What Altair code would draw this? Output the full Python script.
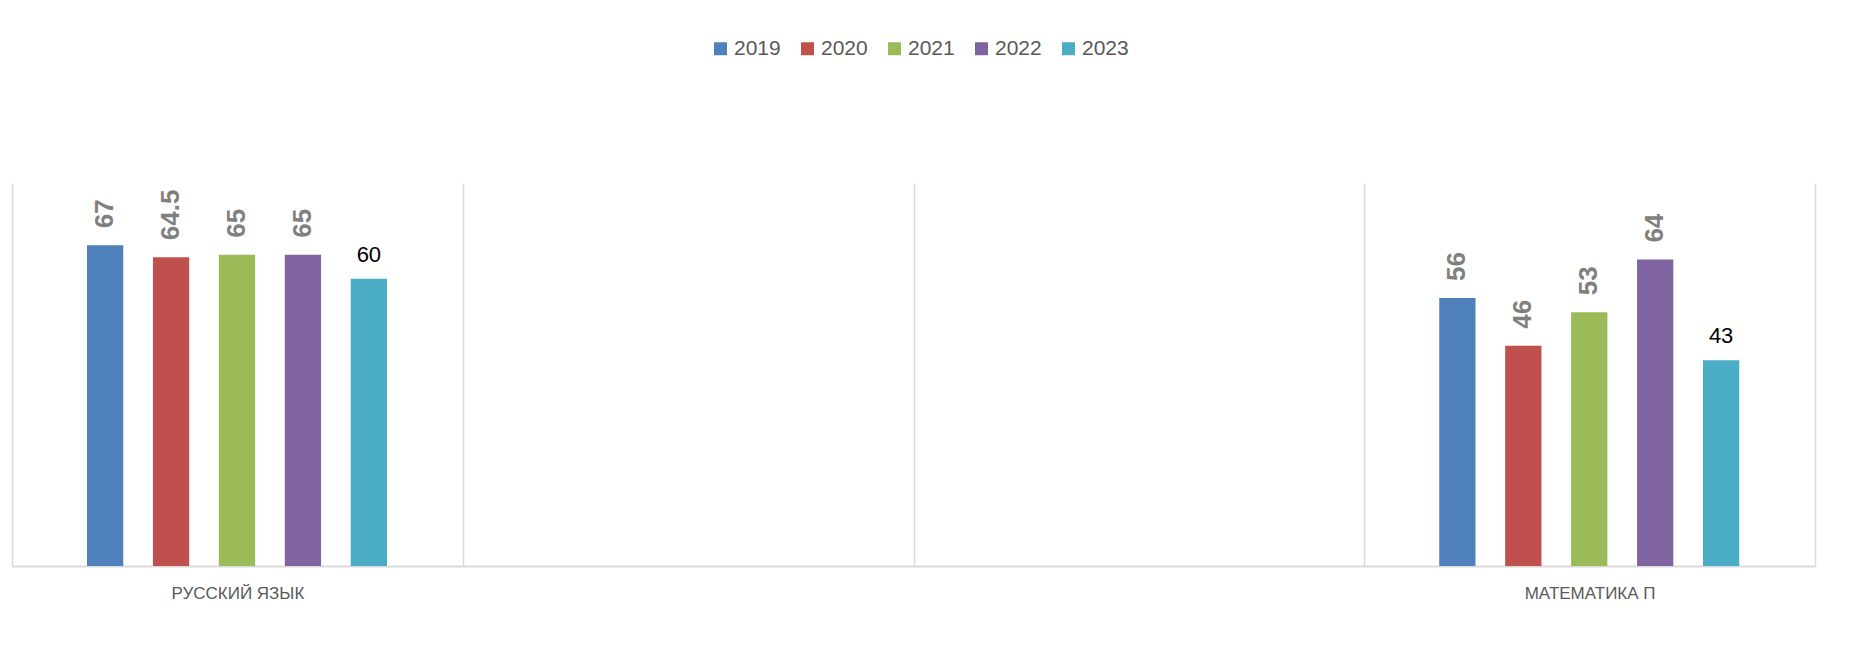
import altair as alt
import pandas as pd

subjects = ["РУССКИЙ ЯЗЫК", " ", "  ", "МАТЕМАТИКА П"]
years = ["2019", "2020", "2021", "2022", "2023"]
russian = [67, 64.5, 65, 65, 60]
math_p = [56, 46, 53, 64, 43]
colors = ["#4F81BD", "#C0504D", "#9BBB59", "#8064A2", "#4BACC6"]

rows = []
for y, v in zip(years, russian):
    rows.append({"subject": subjects[0], "year": y, "value": v})
for y, v in zip(years, math_p):
    rows.append({"subject": subjects[3], "year": y, "value": v})
df = pd.DataFrame(rows)

FONT = "Liberation Sans"

x_enc = alt.X(
    "subject:N",
    sort=subjects,
    scale=alt.Scale(domain=subjects, paddingInner=0, paddingOuter=0),
    axis=alt.Axis(
        title=None,
        labelAngle=0,
        labelColor="#595959",
        labelFontSize=17,
        labelFont=FONT,
        labelPadding=19,
        ticks=False,
        domainColor="#d9d9d9",
        domainWidth=2,
        grid=True,
        gridColor="#d9d9d9",
        gridWidth=1.5,
        tickBand="extent",
    ),
)
xo_enc = alt.XOffset(
    "year:N",
    sort=years,
    scale=alt.Scale(domain=years, range=[75, 375], paddingInner=0.45, paddingOuter=0),
)
y_enc = alt.Y("value:Q", scale=alt.Scale(domain=[0, 80]), axis=None)

base = alt.Chart(df).encode(x=x_enc, xOffset=xo_enc, y=y_enc)

bars = base.mark_bar().encode(
    color=alt.Color(
        "year:N",
        sort=years,
        scale=alt.Scale(domain=years, range=colors),
        legend=alt.Legend(
            title=None,
            orient="none",
            direction="horizontal",
            legendX=698,
            legendY=-145,
            symbolType="square",
            symbolSize=169,
            symbolStrokeWidth=0,
            labelFontSize=21,
            labelFont=FONT,
            labelColor="#595959",
            labelOffset=3,
            columnPadding=16,
        ),
    )
)

rot_labels = base.transform_filter(
    alt.datum.year != "2023"
).mark_text(
    angle=270,
    align="left",
    baseline="middle",
    dx=17,
    fontSize=26,
    fontWeight="bold",
    font=FONT,
    color="#808080",
).encode(text=alt.Text("value:Q", format="~g"))

flat_labels = base.transform_filter(
    alt.datum.year == "2023"
).mark_text(
    align="center",
    baseline="alphabetic",
    dy=-17,
    fontSize=22,
    font=FONT,
    color="#000000",
).encode(text=alt.Text("value:Q", format="~g"))

chart = alt.layer(bars, rot_labels, flat_labels).properties(
    width=1803,
    height=383,
    autosize=alt.AutoSizeParams(type="none"),
    padding={"left": 4, "top": 175, "right": 30, "bottom": 70},
).configure_view(strokeWidth=0)

chart.save("out.html", embed_options={"renderer": "svg", "actions": False})
